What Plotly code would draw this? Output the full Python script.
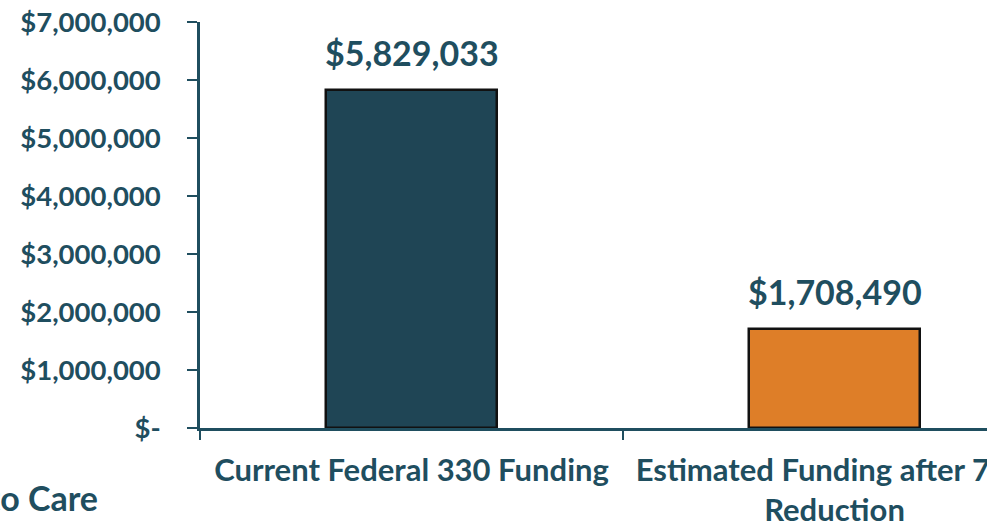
import plotly.graph_objects as go

categories = ["Current Federal 330 Funding", "Estimated Funding after 71%<br>Reduction"]
values = [5829033, 1708490]
value_labels = ["$5,829,033", "$1,708,490"]
bar_colors = ["#1F4555", "#DE7E28"]
ytick_vals = [0, 1000000, 2000000, 3000000, 4000000, 5000000, 6000000, 7000000]
ytick_text = ["$-", "$1,000,000", "$2,000,000", "$3,000,000", "$4,000,000",
              "$5,000,000", "$6,000,000", "$7,000,000"]
side_title = "Access to Care"

TEAL = "#1F4E5F"
FONT = "Lato"

fig = go.Figure()
fig.add_trace(go.Bar(
    x=categories,
    y=values,
    width=0.404,
    marker=dict(color=bar_colors, line=dict(color="#111111", width=2.5)),
    hoverinfo="skip",
))
for cat, val, lab in zip(categories, values, value_labels):
    fig.add_annotation(
        x=cat, y=val, text=lab, showarrow=False,
        xanchor="center", yanchor="middle", yshift=37,
        font=dict(family=FONT, size=34, color=TEAL, weight="bold"),
    )

fig.update_layout(
    width=987, height=526,
    margin=dict(l=200, r=0, t=22, b=98, autoexpand=False),
    plot_bgcolor="white", paper_bgcolor="white",
    showlegend=False,
    font=dict(family=FONT, color=TEAL, weight="bold"),
    bargap=0,
)
fig.update_xaxes(
    type="category",
    range=[-0.5, 1.3605],
    showline=True, linecolor=TEAL, linewidth=2.5,
    ticks="outside", tickson="boundaries", ticklen=9, tickwidth=2, tickcolor=TEAL,
    ticklabelstandoff=13,
    showgrid=False, zeroline=False,
    tickfont=dict(family=FONT, size=31, color=TEAL, weight="bold"),
    automargin=False,
)
fig.update_yaxes(
    range=[0, 7000000],
    tickvals=ytick_vals, ticktext=ytick_text,
    showline=True, linecolor=TEAL, linewidth=2.5,
    ticks="outside", ticklen=10, tickwidth=2, tickcolor=TEAL,
    ticklabelstandoff=21,
    showgrid=False, zeroline=False,
    tickfont=dict(family=FONT, size=27.5, color=TEAL, weight="bold"),
    automargin=False,
)
fig.add_annotation(
    text=side_title, xref="paper", yref="paper",
    x=(100 - 200) / 787, y=-(497 - 428) / 406,
    xanchor="right", yanchor="middle", showarrow=False,
    font=dict(family=FONT, size=34, color=TEAL, weight="bold"),
)
fig.write_html(
    "out.html",
    config={"displayModeBar": False},
    post_script="document.body.style.margin='0';document.body.style.overflow='hidden';",
)
